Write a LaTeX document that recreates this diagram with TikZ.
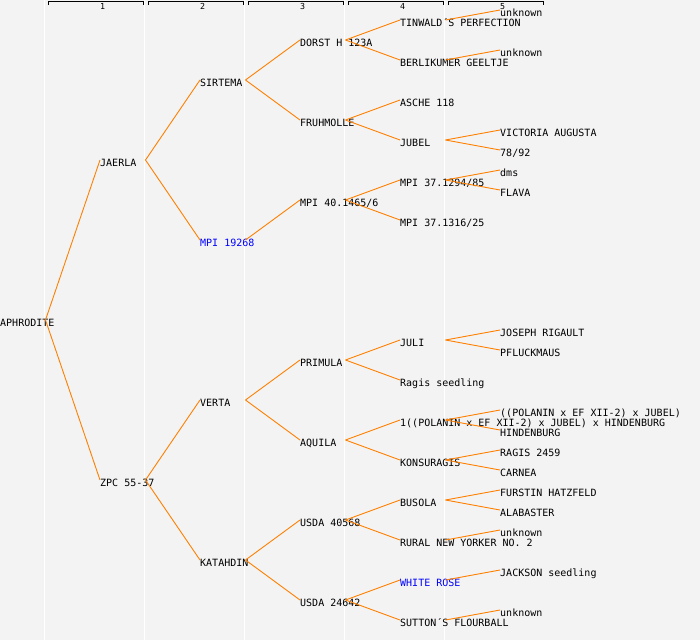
\documentclass[tikz,border=0pt]{standalone}
\usepackage{fontspec}
\newfontfamily\pers{DejaVu Sans Mono}
\definecolor{bgc}{RGB}{243,243,243}
\definecolor{lnorange}{RGB}{255,128,0}
\definecolor{lnblue}{RGB}{0,0,255}
\tikzset{
  lbl/.style={anchor=west, inner sep=0pt, text height=12pt, text depth=0pt, font=\pers\fontsize{10}{12}\selectfont},
  blu/.style={lbl, text=lnblue},
  conn/.style={draw=lnorange, line width=0.9pt},
  colsep/.style={draw=white, line width=1pt},
  hdr/.style={draw=black, line width=1pt},
  hnum/.style={anchor=base west, inner sep=0pt, font=\pers\fontsize{8.3}{9}\selectfont}
}
\begin{document}
\begin{tikzpicture}[x=1pt,y=-1pt]
\useasboundingbox (0,0) rectangle (700,640);
\fill[bgc] (0,0) rectangle (700,640);
\foreach \c in {44.5,144.5,244.5,344.5,444.5} \draw[colsep] (\c,0) -- (\c,640);
\foreach \k in {1,...,5} {
  \draw[hdr] ({100*(\k-1)+48},5) -- ({100*(\k-1)+48},1.5) -- ({100*(\k-1)+143},1.5) -- ({100*(\k-1)+143},5);
  \node[hnum] (h\k) at ({100*(\k-1)+100},9.5) {\k};
}
% generation 0
\node[lbl] (aph) at (0,320) {APHRODITE};
% generation 1
\node[lbl] (jae) at (100,160) {JAERLA};
\node[lbl] (zpc) at (100,480) {ZPC 55-37};
% generation 2
\node[lbl] (sir) at (200,80) {SIRTEMA};
\node[blu] (mpi) at (200,240) {MPI 19268};
\node[lbl] (ver) at (200,400) {VERTA};
\node[lbl] (kat) at (200,560) {KATAHDIN};
% generation 3
\node[lbl] (dor) at (300,40) {DORST H 123A};
\node[lbl] (fru) at (300,120) {FRUHMOLLE};
\node[lbl] (m40) at (300,200) {MPI 40.1465/6};
\node[lbl] (pri) at (300,360) {PRIMULA};
\node[lbl] (aqu) at (300,440) {AQUILA};
\node[lbl] (u40) at (300,520) {USDA 40568};
\node[lbl] (u24) at (300,600) {USDA 24642};
% generation 4
\node[lbl] (tin) at (400,20) {TINWALD´S PERFECTION};
\node[lbl] (ber) at (400,60) {BERLIKUMER GEELTJE};
\node[lbl] (asc) at (400,100) {ASCHE 118};
\node[lbl] (jub) at (400,140) {JUBEL};
\node[lbl] (m94) at (400,180) {MPI 37.1294/85};
\node[lbl] (m16) at (400,220) {MPI 37.1316/25};
\node[lbl] (jul) at (400,340) {JULI};
\node[lbl] (rag) at (400,380) {Ragis seedling};
\node[lbl] (pol) at (400,420) {1((POLANIN x EF XII-2) x JUBEL) x HINDENBURG};
\node[lbl] (kon) at (400,460) {KONSURAGIS};
\node[lbl] (bus) at (400,500) {BUSOLA};
\node[lbl] (rur) at (400,540) {RURAL NEW YORKER NO. 2};
\node[blu] (whi) at (400,580) {WHITE ROSE};
\node[lbl] (sut) at (400,620) {SUTTON´S FLOURBALL};
% generation 5
\node[lbl] (unA) at (500,10) {unknown};
\node[lbl] (unB) at (500,50) {unknown};
\node[lbl] (vic) at (500,130) {VICTORIA AUGUSTA};
\node[lbl] (s78) at (500,150) {78/92};
\node[lbl] (dms) at (500,170) {dms};
\node[lbl] (fla) at (500,190) {FLAVA};
\node[lbl] (jos) at (500,330) {JOSEPH RIGAULT};
\node[lbl] (pfl) at (500,350) {PFLUCKMAUS};
\node[lbl] (pej) at (500,410) {((POLANIN x EF XII-2) x JUBEL)};
\node[lbl] (hin) at (500,430) {HINDENBURG};
\node[lbl] (r24) at (500,450) {RAGIS 2459};
\node[lbl] (car) at (500,470) {CARNEA};
\node[lbl] (fur) at (500,490) {FURSTIN HATZFELD};
\node[lbl] (ala) at (500,510) {ALABASTER};
\node[lbl] (unC) at (500,530) {unknown};
\node[lbl] (jac) at (500,570) {JACKSON seedling};
\node[lbl] (unD) at (500,610) {unknown};
% connectors
\foreach \p/\c in {aph/jae,aph/zpc,
  jae/sir,jae/mpi,zpc/ver,zpc/kat,
  sir/dor,sir/fru,mpi/m40,ver/pri,ver/aqu,kat/u40,kat/u24,
  dor/tin,dor/ber,fru/asc,fru/jub,m40/m94,m40/m16,pri/jul,pri/rag,aqu/pol,aqu/kon,u40/bus,u40/rur,u24/whi,u24/sut,
  tin/unA,ber/unB,jub/vic,jub/s78,m94/dms,m94/fla,jul/jos,jul/pfl,pol/pej,pol/hin,kon/r24,kon/car,bus/fur,bus/ala,rur/unC,whi/jac,sut/unD}
  \draw[conn] ([xshift=45.5pt]\p.west) -- (\c.west);
\end{tikzpicture}
\end{document}
